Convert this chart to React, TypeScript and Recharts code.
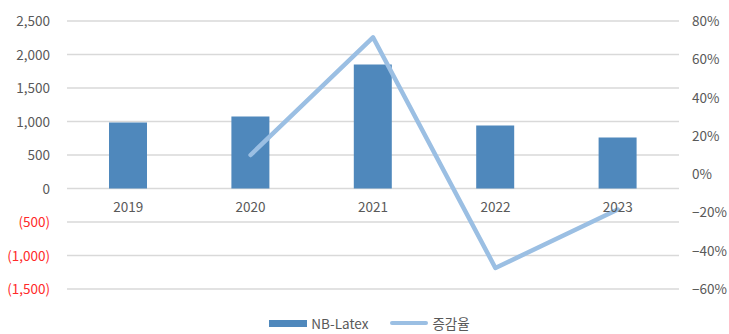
import React from "react";
import {
  ComposedChart,
  Bar,
  Line,
  XAxis,
  YAxis,
  CartesianGrid,
  Legend,
} from "recharts";

const years = ["2019", "2020", "2021", "2022", "2023"];
const latex = [985, 1075, 1850, 940, 760];
const changeRate = [null, 10, 71.5, -49, -18.5];

const leftTicks = [-1500, -1000, -500, 0, 500, 1000, 1500, 2000, 2500];
const rightTicks = [-60, -40, -20, 0, 20, 40, 60, 80];

const data = years.map((year, i) => ({
  year,
  latex: latex[i],
  rate: changeRate[i],
}));

const W = 729;
const H = 334;
const TOP = 21;
const BOTTOM = 289;
const X_AXIS_H = 2;
const FONT = "'Noto Sans CJK KR', 'Noto Sans', sans-serif";
const GRAY = "#595959";
const BAR_COLOR = "#4F88BC";
const LINE_COLOR = "#9BBFE3";

const LEFT_MIN = leftTicks[0];
const LEFT_MAX = leftTicks[leftTicks.length - 1];
// y of the zero line, where the category labels sit
const zeroY = TOP + ((BOTTOM - TOP) * LEFT_MAX) / (LEFT_MAX - LEFT_MIN);

const fmtLeft = (v: number) =>
  v < 0 ? `(${Math.abs(v).toLocaleString("en-US")})` : v.toLocaleString("en-US");

const LeftTick = (props: any) => {
  const { x, y, payload } = props;
  const v = payload.value as number;
  return (
    <text
      x={x}
      y={y}
      dy={5}
      textAnchor="end"
      fontSize={13.5}
      fontFamily={FONT}
      fill={v < 0 ? "#FF2A2A" : GRAY}
    >
      {fmtLeft(v)}
    </text>
  );
};

const RightTick = (props: any) => {
  const { x, y, payload } = props;
  const v = payload.value as number;
  return (
    <text x={x} y={y} dy={5} textAnchor="start" fontSize={13.5} fontFamily={FONT} fill={GRAY}>
      {v < 0 ? `−${Math.abs(v)}%` : `${v}%`}
    </text>
  );
};

const renderYearTick = (props: any) => {
  const { x, payload } = props;
  return (
    <text
      key={payload.value}
      x={x}
      y={zeroY + 23}
      textAnchor="middle"
      fontSize={13.5}
      fontFamily={FONT}
      fill={GRAY}
    >
      {payload.value}
    </text>
  );
};

const LegendContent = () => (
  <div
    style={{
      display: "flex",
      justifyContent: "center",
      alignItems: "center",
      height: 22,
      fontFamily: FONT,
      fontSize: 13.5,
      color: GRAY,
      paddingLeft: 10,
    }}
  >
    <span style={{ display: "inline-block", width: 38, height: 7, background: BAR_COLOR, marginRight: 4 }} />
    <span style={{ marginRight: 22 }}>NB-Latex</span>
    <span
      style={{
        display: "inline-block",
        width: 38,
        height: 4,
        borderRadius: 2,
        background: LINE_COLOR,
        marginRight: 4,
      }}
    />
    <span>증감율</span>
  </div>
);

export default function App() {
  return (
    <div style={{ width: W, height: H, background: "#fff" }}>
      <style>{`body{margin:0}`}</style>
      <ComposedChart
        width={W}
        height={H}
        data={data}
        margin={{ top: TOP, right: 0, bottom: H - BOTTOM - 22 - X_AXIS_H, left: 0 }}
      >
        <CartesianGrid yAxisId="left" vertical={false} stroke="#D9D9D9" strokeWidth={1.3} />
        <XAxis
          dataKey="year"
          height={X_AXIS_H}
          axisLine={false}
          tickLine={false}
          interval={0}
          tick={renderYearTick}
        />
        <YAxis
          yAxisId="left"
          width={67}
          domain={[LEFT_MIN, LEFT_MAX]}
          ticks={leftTicks}
          interval={0}
          axisLine={false}
          tickLine={false}
          tickSize={0}
          tickMargin={17}
          tick={<LeftTick />}
        />
        <YAxis
          yAxisId="right"
          orientation="right"
          width={50}
          domain={[-60, 80]}
          ticks={rightTicks}
          interval={0}
          axisLine={false}
          tickLine={false}
          tickSize={0}
          tickMargin={13}
          tick={<RightTick />}
        />
        <Legend verticalAlign="bottom" height={22} wrapperStyle={{ bottom: 0 }} content={<LegendContent />} />
        <Bar
          yAxisId="left"
          dataKey="latex"
          name="NB-Latex"
          fill={BAR_COLOR}
          barSize={38}
          isAnimationActive={false}
        />
        <Line
          yAxisId="right"
          dataKey="rate"
          name="증감율"
          stroke={LINE_COLOR}
          strokeWidth={4.5}
          strokeLinecap="round"
          strokeLinejoin="round"
          dot={false}
          activeDot={false}
          connectNulls={false}
          isAnimationActive={false}
        />
      </ComposedChart>
    </div>
  );
}
